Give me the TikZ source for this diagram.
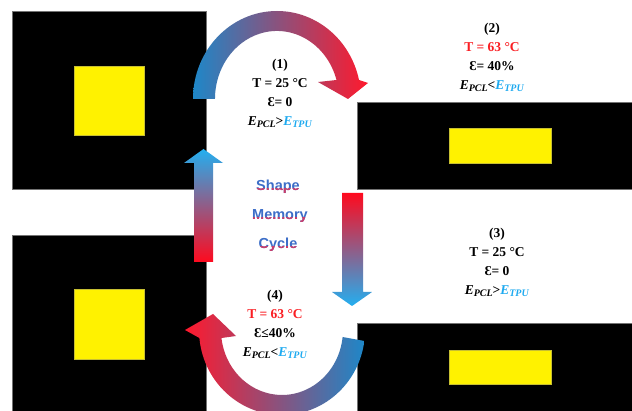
\documentclass[tikz,border=0pt]{standalone}
\usepackage{fontspec}
\setmainfont{Liberation Serif}
\setsansfont{Liberation Sans}
\definecolor{cred}{RGB}{255,25,45}
\definecolor{cblue}{RGB}{30,135,200}
\definecolor{sred}{RGB}{255,10,30}
\definecolor{sblue}{RGB}{35,175,240}
\definecolor{tred}{RGB}{250,30,35}
\definecolor{tcyan}{RGB}{30,170,240}
\definecolor{wblue}{RGB}{60,110,200}
\definecolor{wred}{RGB}{205,60,105}
\newcommand{\EsubX}[1]{\textbf{\textit{E}}\raisebox{-0.35ex}{\fontsize{10}{10}\selectfont\textbf{\textit{#1}}}}
\tikzset{
  blackbox/.style={fill=black,draw=black!55,line width=0.5pt},
  yelbox/.style={fill=yellow,draw=yellow!75!black,line width=0.4pt},
  info/.style={align=center,font=\fontsize{13.5}{19}\selectfont\bfseries,inner sep=0pt},
  smc/.style={font=\fontsize{14.5}{16}\selectfont\sffamily\bfseries,inner sep=0pt},
}
\begin{document}
\begin{tikzpicture}[x=1pt,y=-1pt]
\useasboundingbox (0,0) rectangle (632,411);
\clip (0,0) rectangle (632,411);
\fill[white] (0,0) rectangle (632,411);
% samples
\draw[blackbox] (12,11) rectangle (206,189);
\draw[yelbox] (74,66) rectangle (144,135);
\draw[blackbox] (12,235) rectangle (206,413);
\draw[yelbox] (74,289) rectangle (144,359);
\draw[blackbox] (357,102) rectangle (634,189);
\draw[yelbox] (449,128) rectangle (551,163);
\draw[blackbox] (357,323) rectangle (634,413);
\draw[yelbox] (449,350) rectangle (551,384);
% top curved arrow
\shade[left color=cblue,right color=cred]
  (193,99) arc[start angle=180,end angle=347.5,x radius=84,y radius=88]
  -- (368,83) -- (348,99) -- (318,82) -- (336.5,80)
  arc[start angle=343.8,end angle=180,x radius=62,y radius=68] -- cycle;
% bottom curved arrow
\shade[left color=cred,right color=cblue]
  (199.4,338) arc[start angle=174.6,end angle=7.4,x radius=83,y radius=85]
  -- (342.6,337)
  arc[start angle=6.2,end angle=172.9,x radius=61,y radius=65]
  -- (236,336) -- (213,314) -- (185,330) -- cycle;
% straight arrows
\shade[top color=sblue,bottom color=sred]
  (194,262) -- (194,163) -- (184,163) -- (203.5,149) -- (223,163) -- (213,163) -- (213,262) -- cycle;
\shade[top color=sred,bottom color=sblue]
  (342,193) -- (363,193) -- (363,292) -- (372,292) -- (352,306) -- (332,292) -- (342,292) -- cycle;
% texts
\node[info] (s1) at (280,93) {(1)\\T = 25 °C\\Ɛ= 0\\\EsubX{PCL}>{\color{tcyan}\EsubX{TPU}}};
\node[info] (s2) at (492,57) {(2)\\{\color{tred}T = 63 °C}\\Ɛ= 40\%\\\EsubX{PCL}<{\color{tcyan}\EsubX{TPU}}};
\node[info] (s3) at (497,262) {(3)\\T = 25 °C\\Ɛ= 0\\\EsubX{PCL}>{\color{tcyan}\EsubX{TPU}}};
\node[info] (s4) at (275,324) {(4)\\{\color{tred}T = 63 °C}\\Ɛ≤40\%\\\EsubX{PCL}<{\color{tcyan}\EsubX{TPU}}};
% shape memory cycle
\node[smc,text=wblue] (w1) at (278,187) {Shape};
\node[smc,text=wblue] (w2) at (280,216) {Memory};
\node[smc,text=wblue] (w3) at (278,245) {Cycle};
\begin{scope}
  \clip (220,188) rectangle (340,200) (220,217) rectangle (340,229) (220,246) rectangle (340,258);
  \node[smc,text=wred] at (278,187) {Shape};
  \node[smc,text=wred] at (280,216) {Memory};
  \node[smc,text=wred] at (278,245) {Cycle};
\end{scope}
\end{tikzpicture}
\end{document}
